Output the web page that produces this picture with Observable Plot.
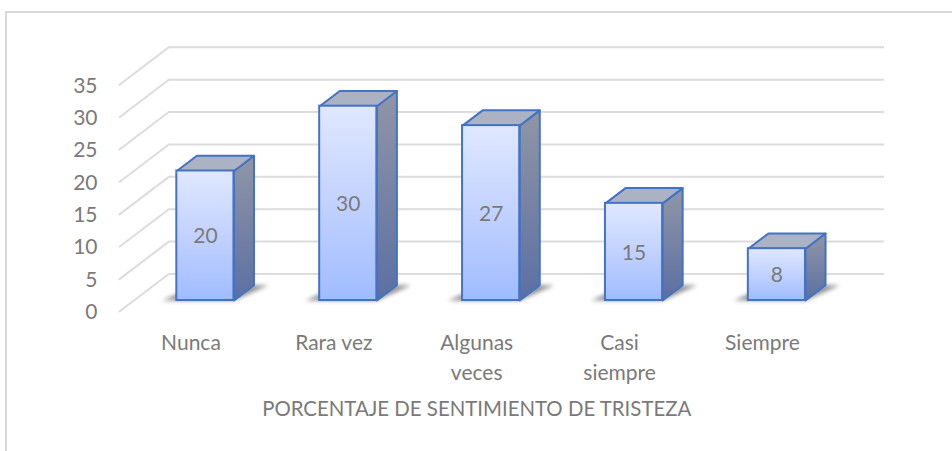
<!DOCTYPE html>
<html lang="es">
<head>
<meta charset="utf-8">
<style>
  html, body { margin: 0; padding: 0; background: #fff; overflow: hidden; }
  #wrap { position: relative; width: 952px; height: 451px; }
  #frame { position: absolute; left: 5px; top: 11px; right: -4px; bottom: -4px; border: 2px solid #d9d9d9; }
  #chart { position: absolute; left: 0; top: 0; }
  #chart svg { background: transparent; display: block; }
</style>
<script src="https://cdn.jsdelivr.net/npm/d3@7"></script>
<script src="https://cdn.jsdelivr.net/npm/@observablehq/plot@0.6"></script>
</head>
<body>
<div id="wrap"><div id="frame"></div><div id="chart"></div></div>
<script>
const categories = ["Nunca", "Rara vez", "Algunas\nveces", "Casi\nsiempre", "Siempre"];
const values = [20, 30, 27, 15, 8];
const yTicks = [0, 5, 10, 15, 20, 25, 30, 35];
const axisTitle = "PORCENTAJE DE SENTIMIENTO DE TRISTEZA";

// Oblique projection of the 3D box, expressed in scale units
const DEPTH_X = 0.345, DEPTH_Y = 5.79;      // full floor depth
const T_FRONT = 0.293, T_BACK = 0.70;       // bar depth within the floor
const BAR_W = 0.4;
const px = (x, t) => x + t * DEPTH_X;
const py = (y, t) => y + t * DEPTH_Y;

const ink = "#7a7a7a", grid = "#dcdcdc", edge = "#4472c4";
const font = "Lato, Carlito, sans-serif";

const bars = values.map((v, i) => ({v, i, cat: categories[i], x1: i + 0.5 - BAR_W / 2, x2: i + 0.5 + BAR_W / 2}));
const front = bars.map(b => ({...b, fx1: px(b.x1, T_FRONT), fx2: px(b.x2, T_FRONT), y0: py(0, T_FRONT), yv: py(b.v, T_FRONT)}));

const poly = (key, pts) => [...pts, pts[0]].map(([x, y]) => ({key, x, y}));
const grids = yTicks.flatMap(v => [
  {key: v, x: px(0, 0), y: py(v, 0)},
  {key: v, x: px(0, 1), y: py(v, 1)},
  {key: v, x: px(categories.length, 1), y: py(v, 1)}
]);
const sides = bars.flatMap(b => poly(b.i, [
  [px(b.x2, T_FRONT), py(0, T_FRONT)], [px(b.x2, T_BACK), py(0, T_BACK)],
  [px(b.x2, T_BACK), py(b.v, T_BACK)], [px(b.x2, T_FRONT), py(b.v, T_FRONT)]
]));
const tops = bars.flatMap(b => poly(b.i, [
  [px(b.x1, T_FRONT), py(b.v, T_FRONT)], [px(b.x2, T_FRONT), py(b.v, T_FRONT)],
  [px(b.x2, T_BACK), py(b.v, T_BACK)], [px(b.x1, T_BACK), py(b.v, T_BACK)]
]));
const SHADOW = 0.1;
const shadows = bars.flatMap(b => poly(b.i, [
  [px(b.x1 - SHADOW, T_FRONT), py(0, T_FRONT)], [px(b.x2, T_FRONT), py(0, T_FRONT)],
  [px(b.x2 + SHADOW, T_BACK), py(0, T_BACK)], [px(b.x1, T_BACK), py(0, T_BACK)]
]));

function gradients() {
  const NS = "http://www.w3.org/2000/svg";
  const defs = document.createElementNS(NS, "defs");
  const add = (id, dir, stops) => {
    const g = document.createElementNS(NS, "linearGradient");
    g.setAttribute("id", id);
    g.setAttribute("x1", dir[0]); g.setAttribute("y1", dir[1]);
    g.setAttribute("x2", dir[2]); g.setAttribute("y2", dir[3]);
    stops.forEach(([o, c]) => {
      const s = document.createElementNS(NS, "stop");
      s.setAttribute("offset", o); s.setAttribute("stop-color", c);
      g.appendChild(s);
    });
    defs.appendChild(g);
  };
  add("faceGrad", [0, 0, 0, 1], [[0, "#e0e8ff"], [0.5, "#c2d2ff"], [1, "#a0bcff"]]);
  add("sideGrad", [0, 0, 0, 1], [[0, "#9096a6"], [1, "#5b6fa3"]]);
  return defs;
}

const plot = Plot.plot({
  width: 952, height: 451,
  marginLeft: 119, marginRight: 118.6, marginTop: 84.3, marginBottom: 140,
  style: {fontFamily: font, background: "transparent"},
  x: {domain: [0, categories.length], axis: null},
  y: {domain: [0, 35], axis: null},
  marks: [
    gradients,
    Plot.line(grids, {x: "x", y: "y", z: "key", stroke: grid, strokeWidth: 2, curve: "linear"}),
    Plot.line(shadows, {x: "x", y: "y", z: "key", fill: "#4a4a4a", fillOpacity: 0.6, stroke: "none", imageFilter: "blur(2px)"}),
    Plot.line(sides, {x: "x", y: "y", z: "key", fill: "url(#sideGrad)", stroke: edge, strokeWidth: 2, strokeLinejoin: "round"}),
    Plot.line(tops, {x: "x", y: "y", z: "key", fill: "#aab2c4", stroke: edge, strokeWidth: 2, strokeLinejoin: "round"}),
    Plot.rect(front, {x1: "fx1", x2: "fx2", y1: "y0", y2: "yv", fill: "url(#faceGrad)", stroke: edge, strokeWidth: 2}),
    Plot.text(front, {x: d => (d.fx1 + d.fx2) / 2, y: d => (d.y0 + d.yv) / 2, text: d => String(d.v), fill: ink, fontSize: 21, dy: 1}),
    Plot.axisY({ticks: yTicks, tickSize: 0, tickPadding: 22, label: null, fontSize: 21, color: ink, fontFamily: font, dy: 1}),
    Plot.text(bars, {x: d => d.i + 0.5, y: 0, text: "cat", dy: 17, lineAnchor: "top", lineHeight: 1.43, textAnchor: "middle", fill: ink, fontSize: 21}),
    Plot.text([axisTitle], {x: categories.length / 2, y: 0, text: d => d, dy: 98, fill: ink, fontSize: 20.4})
  ]
});
document.getElementById("chart").appendChild(plot);
</script>
</body>
</html>
